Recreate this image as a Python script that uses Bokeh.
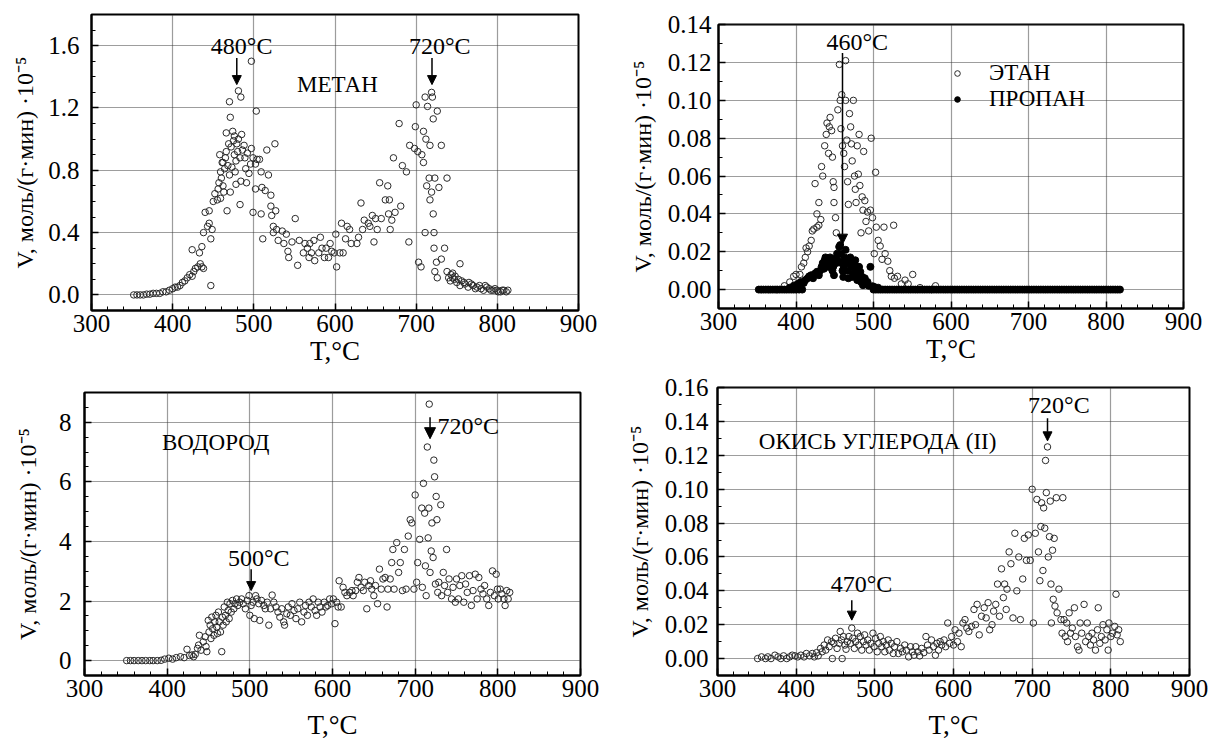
from bokeh.plotting import figure
from bokeh.layouts import column, row
from bokeh.models import (Range1d, SingleIntervalTicker, NumeralTickFormatter, Label, Arrow,
                          NormalHead, Legend, LegendItem)
from bokeh.embed import file_html
from bokeh.resources import INLINE

SERIF = "Liberation Serif"
X_LABEL = "T,°C"
Y_LABEL = "V, моль/(г·мин) ·10⁻⁵"

# ---------------- METHANE ----------------
methane_t = [352, 356, 360, 364, 368, 372, 376, 380, 384, 388,
             392, 396, 400, 403, 406, 409, 412, 415, 418, 421,
             424, 426, 428, 431, 434, 436, 438, 424, 433, 436,
             438, 440, 445, 443, 445, 447, 448.6, 447, 450, 452,
             455, 457, 459, 458, 461, 464, 466, 466, 469, 471,
             470, 474, 476, 477, 478, 467, 463, 471, 481, 483,
             481, 484, 485, 488, 490, 483, 484, 492, 497, 497,
             499, 503, 502, 504, 502, 499, 507, 509, 510, 514,
             509, 511, 516, 518, 521, 521, 522, 524, 526, 527,
             524, 528, 530, 535, 537, 540, 542, 543, 547, 551,
             554, 556, 561, 563, 566, 568, 569, 571, 574, 575,
             580, 582, 584, 587, 589, 592, 594, 596, 599, 601,
             602, 606, 608, 610, 613, 615, 618, 620, 627, 629,
             632, 634, 636, 641, 643, 648, 646, 650, 652, 655,
             657, 662, 665, 667, 666, 668, 670, 672, 674, 679,
             681, 683, 688, 691, 692, 698, 699, 700, 702, 703,
             706, 707, 709, 709, 712, 711, 713, 714, 711, 716,
             717, 717, 719, 719, 720, 721, 721, 722, 722, 723,
             723, 725, 726, 726, 728, 731, 731, 735, 738, 738,
             740, 742, 745, 750, 754, 754, 759, 764, 768, 773,
             778, 783, 787, 792, 797, 801, 806, 811, 813,
             460, 462, 465, 468, 472, 475, 478, 480, 486, 489,
             494, 496, 456, 459, 462, 470, 473, 476, 479, 491,
             745, 748, 752, 756, 760, 765, 770, 775, 780, 785,
             790, 795, 800, 804, 808, 743, 747]
methane_v = [0.00, 0.00, 0.00, 0.00, 0.005, 0.005, 0.01, 0.01, 0.01, 0.02,
             0.02, 0.03, 0.04, 0.05, 0.05, 0.06, 0.08, 0.09, 0.11, 0.13,
             0.12, 0.15, 0.17, 0.18, 0.20, 0.18, 0.17, 0.29, 0.27, 0.31,
             0.40, 0.53, 0.54, 0.44, 0.46, 0.36, 0.42, 0.06, 0.60, 0.65,
             0.61, 0.72, 0.79, 0.90, 0.85, 0.81, 0.92, 1.04, 0.97, 1.14,
             1.24, 1.05, 0.90, 0.79, 0.71, 0.54, 0.66, 0.66, 1.00, 0.88,
             1.31, 1.27, 1.03, 0.96, 0.81, 0.58, 0.73, 0.91, 0.94, 1.50,
             0.88, 1.18, 0.84, 0.87, 0.68, 0.53, 0.87, 0.79, 0.69, 0.67,
             0.52, 0.36, 0.93, 0.77, 0.64, 0.57, 0.51, 0.44, 0.97, 0.54,
             0.40, 0.42, 0.35, 0.41, 0.33, 0.39, 0.28, 0.24, 0.34, 0.49,
             0.19, 0.35, 0.27, 0.33, 0.30, 0.24, 0.33, 0.27, 0.35, 0.22,
             0.27, 0.37, 0.30, 0.24, 0.30, 0.24, 0.33, 0.28, 0.27, 0.39,
             0.18, 0.27, 0.46, 0.27, 0.36, 0.44, 0.42, 0.33, 0.33, 0.37,
             0.59, 0.42, 0.48, 0.46, 0.44, 0.34, 0.51, 0.49, 0.42, 0.72,
             0.49, 0.61, 0.70, 0.61, 0.52, 0.42, 0.48, 0.88, 0.53, 1.10,
             0.57, 0.83, 0.79, 0.34, 0.96, 0.94, 1.08, 1.22, 0.92, 0.21,
             0.18, 0.90, 0.85, 1.05, 1.00, 0.40, 0.70, 1.21, 1.27, 0.75,
             0.61, 0.96, 0.66, 1.30, 1.27, 1.13, 0.52, 0.30, 0.40, 0.75,
             0.15, 0.21, 1.18, 0.11, 0.69, 0.96, 0.23, 0.30, 0.75, 0.15,
             0.11, 0.09, 0.11, 0.08, 0.20, 0.06, 0.08, 0.05, 0.07, 0.04,
             0.06, 0.03, 0.05, 0.03, 0.04, 0.02, 0.03, 0.02, 0.03,
             0.75, 0.70, 0.88, 0.83, 0.95, 0.99, 0.86, 0.92, 0.93, 0.88,
             0.78, 0.84, 0.68, 0.62, 0.85, 0.77, 0.82, 1.02, 0.97, 0.72,
             0.14, 0.12, 0.10, 0.09, 0.07, 0.08, 0.06, 0.05, 0.04, 0.06,
             0.04, 0.03, 0.03, 0.02, 0.03, 0.13, 0.10]

# ---------------- ETHANE (open) ----------------
ethane_t = [355, 365, 375, 385, 392, 397, 400, 401, 405, 407,
            410, 412, 413, 415, 417, 419.6, 421, 423, 427, 429.5,
            424.6, 427, 429.5, 432, 433, 434.5, 437, 439, 440, 442,
            443, 444, 446, 447, 448, 449, 451, 452, 449, 454,
            456, 457, 459, 458, 460, 461.6, 462.6, 464, 464, 465.6,
            466.6, 467.6, 469, 470.5, 471.5, 472.5, 474, 475.5, 476.5, 477.5,
            479, 480.4, 481.4, 482.4, 483.9, 485.4, 486.4, 487.3, 488.8, 490.3,
            492.3, 493.8, 496, 497, 498.7, 501, 502.7, 503.6, 506, 508.6,
            511, 513.5, 515, 518.5, 521, 523, 526, 527, 531, 536,
            540.7, 544.7, 550.6, 560, 575, 580]
ethane_v = [0.0, 0.0, 0.0, 0.002, 0.004, 0.007, 0.008, 0.0, 0.008, 0.012,
            0.014, 0.017, 0.022, 0.020, 0.023, 0.026, 0.031, 0.032, 0.033, 0.034,
            0.056, 0.040, 0.046, 0.037, 0.065, 0.060, 0.076, 0.082, 0.088, 0.072,
            0.086, 0.091, 0.084, 0.070, 0.057, 0.054, 0.038, 0.030, 0.046, 0.095,
            0.119, 0.100, 0.103, 0.085, 0.076, 0.072, 0.065, 0.121, 0.100, 0.079,
            0.057, 0.045, 0.093, 0.086, 0.077, 0.068, 0.100, 0.060, 0.053, 0.046,
            0.076, 0.061, 0.082, 0.055, 0.030, 0.049, 0.042, 0.073, 0.047, 0.036,
            0.041, 0.031, 0.042, 0.080, 0.038, 0.019, 0.062, 0.033, 0.026, 0.023,
            0.016, 0.033, 0.019, 0.015, 0.010, 0.007, 0.034, 0.006, 0.007, 0.003,
            0.005, 0.003, 0.008, 0.001, 0.0, 0.002]

# ---------------- PROPANE (filled) ----------------
propane_t = [352, 355, 358, 361, 364, 367, 370, 373, 376, 379,
             382, 385, 388, 391, 394, 397, 400, 404, 408,
             392, 397, 402, 406, 410, 412, 415, 417, 419.6, 422,
             424.6, 427, 429.5, 431, 433, 434.5, 436, 437, 438, 439,
             441, 442, 443, 444, 446, 447, 448, 449, 451, 452,
             453, 454, 455.7, 457, 458, 459, 460, 461, 461.6, 462.6,
             464, 465, 466.6, 467.6, 469, 470, 471.5, 472.5, 474, 475.5,
             476.5, 477.5, 479, 480.4, 481.4, 483, 484, 485.4, 486.4, 488.8,
             490.3, 492.3, 493.8, 496, 498.7, 501, 506,
             500, 503, 506, 509, 512, 515, 518, 521, 524, 527,
             530, 533, 536, 539, 542, 545, 548, 551, 554, 557,
             560, 563, 566, 569, 572, 575, 578, 581, 584, 587,
             590, 593, 596, 599, 602, 605, 608, 611, 614, 617,
             620, 623, 626, 629, 632, 635, 638, 641, 644, 647,
             650, 653, 656, 659, 662, 665, 668, 671, 674, 677,
             680, 683, 686, 689, 692, 695, 698, 701, 704, 707,
             710, 713, 716, 719, 722, 725, 728, 731, 734, 737,
             740, 743, 746, 749, 752, 755, 758, 761, 764, 767,
             770, 773, 776, 779, 782, 785, 788, 791, 794, 797,
             800, 803, 806, 809, 812, 815, 818]
propane_v = [0.0, 0.0, 0.0, 0.0, 0.0, 0.0, 0.0, 0.0, 0.0, 0.0,
             0.0, 0.0, 0.0, 0.0, 0.0, 0.0, 0.0, 0.0, 0.0,
             0.001, 0.002, 0.003, 0.004, 0.0035, 0.005, 0.006, 0.007, 0.0076, 0.006,
             0.0085, 0.0094, 0.0076, 0.010, 0.012, 0.014, 0.011, 0.0155, 0.017, 0.0164,
             0.014, 0.012, 0.0155, 0.017, 0.014, 0.010, 0.012, 0.0076, 0.0164, 0.014,
             0.019, 0.0155, 0.0226, 0.0235, 0.019, 0.014, 0.010, 0.0067, 0.012, 0.017,
             0.021, 0.014, 0.010, 0.006, 0.014, 0.017, 0.012, 0.0067, 0.0085, 0.013,
             0.0155, 0.010, 0.005, 0.0076, 0.012, 0.0094, 0.004, 0.0067, 0.0023, 0.006,
             0.003, 0.004, 0.002, 0.012, 0.0018, 0.0014, 0.001,
             0.0, 0.0, 0.0, 0.0, 0.0, 0.0, 0.0, 0.0, 0.0, 0.0,
             0.0, 0.0, 0.0, 0.0, 0.0, 0.0, 0.0, 0.0, 0.0, 0.0,
             0.0, 0.0, 0.0, 0.0, 0.0, 0.0, 0.0, 0.0, 0.0, 0.0,
             0.0, 0.0, 0.0, 0.0, 0.0, 0.0, 0.0, 0.0, 0.0, 0.0,
             0.0, 0.0, 0.0, 0.0, 0.0, 0.0, 0.0, 0.0, 0.0, 0.0,
             0.0, 0.0, 0.0, 0.0, 0.0, 0.0, 0.0, 0.0, 0.0, 0.0,
             0.0, 0.0, 0.0, 0.0, 0.0, 0.0, 0.0, 0.0, 0.0, 0.0,
             0.0, 0.0, 0.0, 0.0, 0.0, 0.0, 0.0, 0.0, 0.0, 0.0,
             0.0, 0.0, 0.0, 0.0, 0.0, 0.0, 0.0, 0.0, 0.0, 0.0,
             0.0, 0.0, 0.0, 0.0, 0.0, 0.0, 0.0, 0.0, 0.0, 0.0,
             0.0, 0.0, 0.0, 0.0, 0.0, 0.0, 0.0]

# ---------------- HYDROGEN ----------------
hydrogen_t = [351, 355.6, 360, 365, 369.5, 374, 379, 383, 388, 392.7,
              397, 402, 406.6, 411, 416, 420.5, 424, 427, 430, 432,
              434, 436.7, 438, 439, 441, 443.6, 446, 447, 448, 449.7,
              450.6, 452, 453, 454, 455, 456.6, 457.6, 459, 460, 460.8,
              462, 463, 464.5, 466, 466.8, 467.7, 469, 470.5, 471.5, 472.8,
              473.8, 475, 476, 477.5, 479, 480.7, 482, 484, 485.4, 487.7,
              490, 492, 494.6, 496.9, 499, 500, 501.6, 503.9, 505.3, 507,
              508.5, 510.8, 512, 514, 516.9, 518.7, 521, 523, 525, 527,
              529, 531.7, 534, 536.3, 538.6, 541, 542, 544.7, 546.5, 549,
              551, 553.5, 555.8, 558, 560.4, 562.7, 565.5, 567.4, 569.7, 571.5,
              574.3, 576.6, 578.9, 580.8, 582.7, 585, 587.3, 590, 592, 594.3,
              596.6, 599, 601, 603, 605, 606.8, 608, 610.5, 612.8, 615,
              617.4, 620.7, 623.5, 625, 628, 630, 632, 634.6, 637.3, 639,
              641.5, 643.8, 646, 647.5, 650, 652, 654.5, 656.8, 659, 661,
              663.7, 666, 667, 669.8, 671.6, 673, 674.5, 677.7, 680, 682,
              684.6, 687, 689, 691.6, 694, 696, 698.5, 700, 701.8, 703,
              705.5, 708, 708.7, 710, 711.5, 712.4, 713.3, 714.7, 715.7, 716.6,
              717, 718, 719.4, 720.3, 721.7, 722.6, 723.5, 724.5, 725.4, 726.3,
              727.3, 728.6, 731, 732, 734, 735.6, 738, 739.3, 741, 744,
              745.8, 748.6, 750, 752.3, 754, 756.4, 758.8, 761, 763, 765.7,
              768, 770, 772.7, 775, 777, 779.6, 782, 784, 786.6, 789,
              791, 793.5, 795.8, 798, 799.5, 800.5, 802.8, 805, 807.4, 808.8,
              810.7, 812.5, 814.4]
hydrogen_v = [0.0, 0.0, 0.0, 0.0, 0.0, 0.0, 0.0, 0.0, 0.0, 0.01,
              0.05, 0.08, 0.05, 0.10, 0.13, 0.10, 0.38, 0.17, 0.19, 0.13,
              0.21, 0.41, 0.52, 0.85, 0.35, 0.63, 0.80, 0.47, 0.30, 1.35,
              0.96, 1.19, 0.74, 1.46, 1.07, 0.85, 1.30, 1.52, 1.13, 0.91,
              1.63, 1.30, 0.96, 0.30, 1.46, 1.19, 1.80, 1.52, 1.30, 1.96,
              1.68, 1.41, 1.91, 1.63, 2.02, 1.74, 1.91, 2.07, 1.85, 1.96,
              2.07, 1.91, 1.74, 2.02, 2.18, 1.52, 1.85, 1.96, 1.41, 2.18,
              2.07, 1.91, 1.35, 2.02, 1.85, 1.74, 1.96, 1.19, 1.74, 2.20,
              1.96, 1.80, 1.63, 1.46, 1.74, 1.30, 1.19, 1.57, 1.80, 1.52,
              1.91, 1.68, 1.41, 1.74, 1.96, 1.30, 1.63, 1.85, 1.52, 1.96,
              1.80, 2.07, 1.68, 1.52, 1.96, 1.80, 1.63, 1.96, 1.80, 1.85,
              2.07, 1.91, 2.07, 1.24, 1.96, 1.80, 2.68, 1.80, 2.46, 2.29,
              2.18, 2.29, 2.35, 2.18, 2.35, 2.63, 2.79, 2.46, 2.35, 2.63,
              1.74, 2.52, 2.68, 2.40, 2.18, 2.52, 1.91, 3.07, 2.40, 2.74,
              2.79, 1.80, 2.40, 2.74, 3.29, 3.73, 2.40, 3.96, 2.96, 3.29,
              2.35, 3.73, 2.40, 4.18, 4.73, 4.62, 2.40, 5.56, 2.63, 3.29,
              4.07, 5.12, 2.46, 5.95, 4.95, 3.18, 2.18, 7.17, 4.12, 5.12,
              8.61, 2.96, 3.68, 4.62, 3.46, 6.73, 6.17, 2.57, 5.51, 4.73,
              2.29, 2.63, 5.23, 2.18, 2.96, 2.52, 3.73, 2.29, 2.74, 2.07,
              2.46, 1.96, 2.74, 2.07, 2.52, 2.85, 1.96, 2.57, 2.29, 2.85,
              1.85, 2.35, 2.90, 2.07, 2.79, 2.40, 2.24, 2.52, 2.07, 1.85,
              2.29, 3.01, 2.18, 2.90, 2.40, 2.07, 2.40, 2.24, 2.07, 1.85,
              2.35, 2.07, 2.29]

# ---------------- CARBON MONOXIDE ----------------
co_t = [351, 356, 361, 364, 368, 373, 377, 380.5, 384, 388,
        391.7, 395, 398.5, 402, 406, 410, 413, 417, 420.5, 423,
        426, 428, 431, 433, 435.6, 437.6, 440, 442, 445, 446,
        448, 450, 452, 454.6, 456, 457.6, 458.5, 460, 462, 463.4,
        465, 467, 469, 470.7, 472, 474, 475.6, 478, 479.5, 481.5,
        483.4, 485.4, 487, 488.8, 491, 493, 495, 497.6, 499, 501,
        503, 505, 507, 508.8, 510.7, 512.7, 514.6, 517, 518.5, 521,
        523.4, 525, 528, 530, 532.7, 535, 538, 540, 543, 545.4,
        547.8, 549.8, 552, 554.6, 557, 559.5, 562.4, 565, 567, 569,
        572, 574.6, 577, 579, 581, 583, 585, 588, 590, 592.7,
        595, 597.6, 600, 602, 605, 607, 609.8, 612, 614.6, 617,
        619.5, 623, 626, 628, 630, 632.7, 635.6, 639, 641.5, 644,
        646, 649, 651, 653.7, 656, 658.5, 661, 663.4, 665, 667,
        668, 670.7, 673, 675.6, 678, 680.5, 683, 685, 688, 690,
        692.7, 695, 697.6, 700, 701.5, 704, 706, 708, 709.8, 711,
        712, 713.7, 714.6, 716, 717, 718, 719.5, 720.5, 722, 723,
        723.9, 724.4, 725.9, 726.8, 728, 729, 730.7, 731.7, 734, 736.6,
        738, 739, 740.5, 742, 744, 745, 747, 748.8, 751, 753.7,
        755, 757.6, 759.5, 761, 763, 766, 768, 770, 772, 774,
        776, 778, 780.5, 783, 784, 786, 788, 790, 792.7, 795,
        796.6, 797.6, 800, 802, 805, 806.6, 808, 810, 812]
co_v = [0.0, 0.001, 0.0, 0.001, 0.0, 0.002, 0.001, 0.0, 0.0016, 0.0,
        0.001, 0.002, 0.0016, 0.001, 0.002, 0.001, 0.003, 0.0016, 0.003, 0.001,
        0.0035, 0.0016, 0.006, 0.004, 0.008, 0.005, 0.011, 0.007, 0.010, 0.0,
        0.009, 0.012, 0.006, 0.009, 0.016, 0.011, 0.0, 0.013, 0.008, 0.0055,
        0.010, 0.013, 0.009, 0.018, 0.012, 0.006, 0.010, 0.015, 0.008, 0.013,
        0.005, 0.010, 0.014, 0.008, 0.011, 0.005, 0.009, 0.015, 0.007, 0.012,
        0.004, 0.009, 0.013, 0.007, 0.010, 0.004, 0.008, 0.011, 0.005, 0.009,
        0.003, 0.007, 0.010, 0.003, 0.006, 0.004, 0.008, 0.005, 0.001, 0.007,
        0.004, 0.002, 0.007, 0.004, 0.0016, 0.006, 0.0035, 0.013, 0.008, 0.005,
        0.011, 0.007, 0.002, 0.009, 0.005, 0.010, 0.008, 0.011, 0.007, 0.021,
        0.009, 0.013, 0.008, 0.017, 0.010, 0.015, 0.007, 0.021, 0.023, 0.018,
        0.016, 0.019, 0.029, 0.020, 0.032, 0.014, 0.025, 0.030, 0.024, 0.033,
        0.017, 0.020, 0.028, 0.032, 0.044, 0.025, 0.053, 0.036, 0.044, 0.029,
        0.041, 0.063, 0.056, 0.024, 0.074, 0.040, 0.060, 0.023, 0.047, 0.071,
        0.058, 0.073, 0.058, 0.100, 0.021, 0.074, 0.094, 0.063, 0.046, 0.078,
        0.092, 0.052, 0.089, 0.077, 0.117, 0.098, 0.125, 0.060, 0.072, 0.093,
        0.044, 0.021, 0.064, 0.035, 0.071, 0.031, 0.095, 0.027, 0.041, 0.023,
        0.015, 0.095, 0.023, 0.013, 0.021, 0.010, 0.027, 0.015, 0.018, 0.030,
        0.013, 0.007, 0.005, 0.021, 0.015, 0.032, 0.010, 0.021, 0.013, 0.008,
        0.015, 0.011, 0.005, 0.017, 0.030, 0.009, 0.013, 0.020, 0.011, 0.017,
        0.005, 0.021, 0.013, 0.015, 0.019, 0.038, 0.014, 0.017, 0.010]


def make_fig(y_lo, y_hi, y_step, y_minor, y_fmt, fw, fh, bl, br, bt, bb,
             ytick_standoff, ylab_standoff, xlab_standoff):
    p = figure(width=bl + fw + br, height=bt + fh + bb,
               min_border_left=bl, min_border_right=br,
               min_border_top=bt, min_border_bottom=bb,
               x_range=Range1d(300, 900), y_range=Range1d(y_lo, y_hi),
               toolbar_location=None, output_backend="svg", frame_align=False,
               background_fill_color="white", border_fill_color="white")
    p.xaxis.ticker = SingleIntervalTicker(interval=100, num_minor_ticks=5)
    p.yaxis.ticker = SingleIntervalTicker(interval=y_step, num_minor_ticks=y_minor)
    p.yaxis.formatter = NumeralTickFormatter(format=y_fmt)
    p.xaxis.axis_label = X_LABEL
    p.yaxis.axis_label = Y_LABEL
    for ax in (p.xaxis[0], p.yaxis[0]):
        ax.axis_line_color = "black"
        ax.axis_line_width = 2
        ax.major_tick_in = 7
        ax.major_tick_out = 0
        ax.minor_tick_in = 4
        ax.minor_tick_out = 0
        ax.major_tick_line_color = "black"
        ax.major_tick_line_width = 1.5
        ax.minor_tick_line_color = "black"
        ax.major_label_text_font = SERIF
        ax.major_label_text_font_size = "25px"
        ax.major_label_text_color = "black"
        ax.axis_label_text_font = SERIF
        ax.axis_label_text_font_style = "normal"
        ax.axis_label_text_color = "black"
    p.xaxis.axis_label_text_font_size = "27px"
    p.yaxis.axis_label_text_font_size = "24px"
    p.xaxis.major_label_standoff = 4
    p.xaxis.axis_label_standoff = xlab_standoff
    p.yaxis.major_label_standoff = ytick_standoff
    p.yaxis.axis_label_standoff = ylab_standoff
    for g in (p.xgrid[0], p.ygrid[0]):
        g.grid_line_color = "#3a3a3a"
        g.grid_line_width = 1.2
        g.grid_line_dash = "1 1"
    p.outline_line_color = "black"
    p.outline_line_width = 2
    p.outline_line_alpha = 1
    return p


def add_text(p, x, y, text, size="24px", align="center"):
    p.add_layout(Label(x=x, y=y, text=text, text_align=align, text_baseline="middle",
                       text_font=SERIF, text_font_size=size, text_color="black"))


def add_arrow(p, x, y0, y1, head=9):
    p.add_layout(Arrow(x_start=x, y_start=y0, x_end=x, y_end=y1, line_width=1.5,
                       line_color="black",
                       end=NormalHead(size=head, fill_color="black", line_color="black")))


OPEN = dict(marker="circle", size=6.5, fill_color=None, line_color="#2a2a2a", line_width=1)

# Panel 1: methane
p1 = make_fig(-0.1, 1.8, 0.4, 4, "0.0", 487, 296, 91, 30, 14, 64, 12, 7, 1)
p1.scatter(methane_t, methane_v, **OPEN)
add_text(p1, 485, 1.60, "480°C")
add_arrow(p1, 479, 1.52, 1.35)
add_text(p1, 729, 1.60, "720°C")
add_arrow(p1, 719.5, 1.52, 1.35)
add_text(p1, 603, 1.35, "МЕТАН", size="23px")

# Panel 2: ethane / propane
p2 = make_fig(-0.01, 0.1401, 0.02, 2, "0.00", 465, 284, 110, 25, 24, 66, 7, 9, 1)
r_eth = p2.scatter(ethane_t, ethane_v, **OPEN)
r_pro = p2.scatter(propane_t, propane_v, marker="circle", size=7,
                   fill_color="black", line_color="black")
add_text(p2, 479, 0.131, "460°C")
add_arrow(p2, 460, 0.125, 0.024, head=10)
legend = Legend(items=[LegendItem(label="ЭТАН", renderers=[r_eth]),
                       LegendItem(label="ПРОПАН", renderers=[r_pro])],
                location=(232, 196), background_fill_alpha=0, border_line_alpha=0,
                padding=0, margin=0, spacing=0, glyph_width=14, glyph_height=14,
                label_standoff=25, label_height=25, label_text_font=SERIF,
                label_text_font_size="23px", label_text_color="black")
p2.add_layout(legend)

# Panel 3: hydrogen
p3 = make_fig(-0.5, 9.0, 2, 4, "0", 496, 283, 84, 28, 18, 73, 13, 15, 10)
p3.scatter(hydrogen_t, hydrogen_v, **OPEN)
add_text(p3, 458.7, 7.33, "ВОДОРОД", size="23px")
add_text(p3, 510.8, 3.46, "500°C")
add_arrow(p3, 501.6, 3.07, 2.35)
add_text(p3, 727, 7.89, "720°C", align="left")
add_arrow(p3, 718, 8.17, 7.45, head=11)

# Panel 4: carbon monoxide
p4 = make_fig(-0.01, 0.1601, 0.02, 2, "0.00", 472, 288, 109, 19, 13, 73, 9, 9, 10)
p4.scatter(co_t, co_v, **OPEN)
add_text(p4, 503.5, 0.128, "ОКИСЬ УГЛЕРОДА (II)", size="23px")
add_text(p4, 483, 0.044, "470°C")
add_arrow(p4, 470.7, 0.0345, 0.0227)
add_text(p4, 734, 0.150, "720°C")
add_arrow(p4, 719.5, 0.142, 0.1286)

layout = column(row(p1, p2), row(p3, p4))
open("out.html", "w").write(file_html(layout, INLINE))
